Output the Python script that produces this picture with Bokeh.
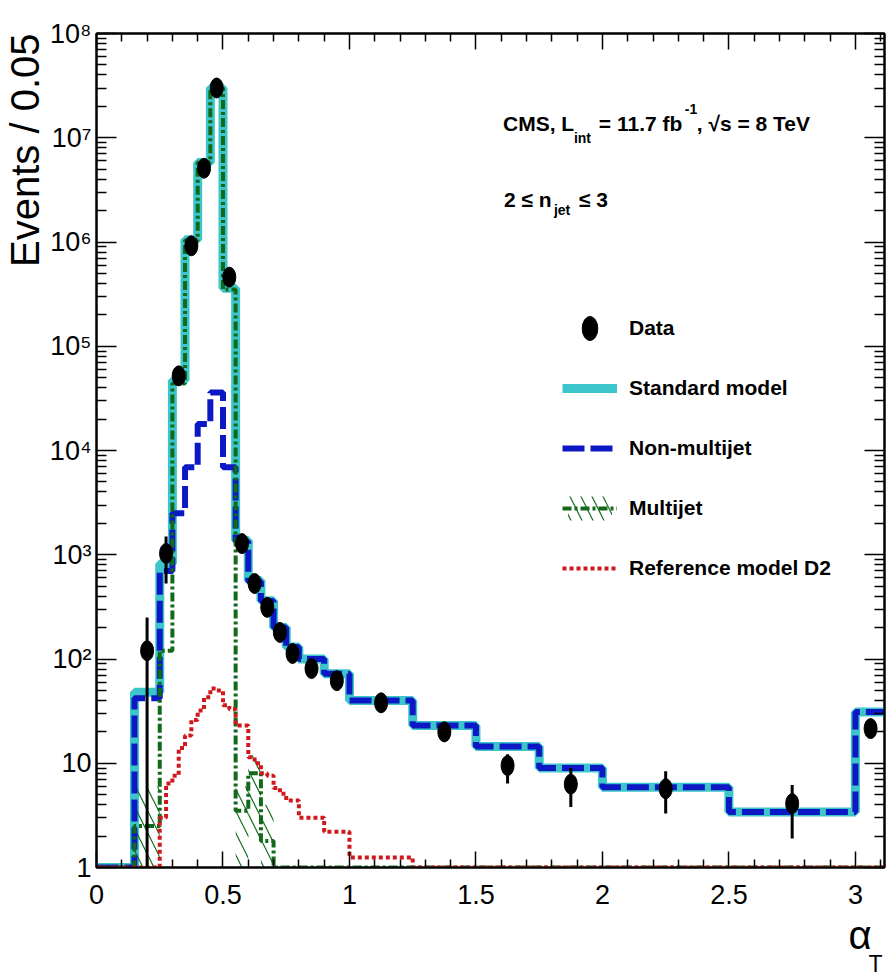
import math
import numpy as np
from bokeh.plotting import figure
from bokeh.models import (Range1d, FixedTicker, LinearAxis, LogAxis, Label, Legend,
                          LegendItem, CustomJSTickFormatter, Title)
from bokeh.embed import file_html
from bokeh.resources import INLINE

# ---------------- data ----------------
# histogram bin edges for the stacked SM / components (alpha_T)
edges = [0.0, 0.15, 0.25, 0.30, 0.35, 0.40, 0.45, 0.50, 0.55, 0.60, 0.65, 0.70,
         0.75, 0.80, 0.90, 1.00, 1.25, 1.50, 1.75, 2.00, 2.50, 3.00, 3.115]
standard_model = [1, 48, 820, 4.7e4, 1.05e6, 5.8e6, 3.0e7, 3.6e5, 1370, 565, 363, 200,
                  130, 100, 72, 40, 23, 14.5, 9.0, 5.9, 3.4, 31]
non_multijet = [1, 42, 700, 2.5e3, 6.9e3, 1.8e4, 3.6e4, 6.9e3, 1340, 555, 360, 200,
                130, 100, 72, 40, 23, 14.5, 9.0, 5.9, 3.4, 31]
multijet = [1, 2.5, 120, 4.4e4, 1.04e6, 5.8e6, 3.0e7, 3.5e5, 3.5, 8.0, 1.8, 1,
            1, 1, 1, 1, 1, 1, 1, 1, 1, 1]

# multijet uncertainty band (hatched), only where it is visible
mj_band_left = [0.15, 0.55, 0.60, 0.65]
mj_band_right = [0.25, 0.60, 0.65, 0.70]
mj_band_lo = [1.0, 1.0, 2.0, 1.0]
mj_band_hi = [6.0, 6.0, 12.0, 4.0]

# reference model D2 (finer binning)
ref_edges = [0.0, 0.25, 0.275, 0.30, 0.325, 0.35, 0.375, 0.40, 0.425, 0.45, 0.475,
             0.50, 0.525, 0.55, 0.575, 0.60, 0.625, 0.65, 0.675, 0.70, 0.725, 0.75,
             0.80, 0.90, 1.00, 1.25, 3.115]
ref_model_d2 = [1, 3.0, 6.4, 7.6, 14, 18.5, 26, 32, 43, 52, 50, 36, 33, 23, 23, 11.4,
                10, 8.0, 7.6, 5.8, 5.1, 4.4, 3.0, 2.2, 1.25, 1]

# data points with error bars
data_x = [0.2, 0.275, 0.325, 0.375, 0.425, 0.475, 0.525, 0.575, 0.625, 0.675, 0.725,
          0.775, 0.85, 0.95, 1.125, 1.375, 1.625, 1.875, 2.25, 2.75, 3.06]
data_y = [120, 1030, 5.2e4, 9.2e5, 5.1e6, 3.0e7, 4.6e5, 1280, 530, 313, 180,
          113, 81, 62, 38, 20, 9.5, 6.3, 5.7, 4.1, 21.5]
data_lo = [0.5, 530, 5.0e4, 9.0e5, 5.0e6, 2.95e7, 4.5e5, 1240, 505, 295, 166,
           102, 72, 54, 32, 16, 6.4, 3.8, 3.3, 1.9, 17.5]
data_hi = [250, 1500, 5.4e4, 9.4e5, 5.2e6, 3.05e7, 4.7e5, 1320, 555, 331, 194,
           124, 90, 70, 44, 25, 12.2, 9.0, 8.4, 6.2, 26]

x_ticks = [0, 0.5, 1, 1.5, 2, 2.5, 3]
x_tick_labels = ["0", "0.5", "1", "1.5", "2", "2.5", "3"]
y_ticks = [1, 10, 100, 1e3, 1e4, 1e5, 1e6, 1e7, 1e8]
y_tick_labels = ["1", "10", "10\u00b2", "10\u00b3", "10\u2074", "10\u2075",
                 "10\u2076", "10\u2077", "10\u2078"]

FONT = "Liberation Sans"

# ---------------- layout (canvas pixels) ----------------
W, H = 886, 975
FL, FR, FT, FB = 95, 884, 33, 867     # frame edges
X0, X1 = 0.0, 3.115
Y0, Y1 = 1.0, 1e8

def dx(px):
    return X0 + (px - FL) / (FR - FL) * (X1 - X0)

def dy(py):
    return 10 ** (math.log10(Y0) + (FB - py) / (FB - FT) * (math.log10(Y1) - math.log10(Y0)))

p = figure(width=W, height=H, x_range=Range1d(X0, X1), y_range=Range1d(Y0, Y1),
           y_axis_type="log", output_backend="svg", toolbar_location=None,
           min_border_left=FL, min_border_right=W - FR,
           min_border_top=FT, min_border_bottom=H - FB)
p.grid.visible = False
p.outline_line_color = "black"
p.outline_line_width = 2
p.background_fill_color = "white"
p.border_fill_color = "white"

# ---------------- glyphs ----------------
def step_y(vals):
    return list(vals) + [vals[-1]]

CYAN = "#3cc6cc"
BLUE = "#0c18c4"
GREEN = "#12691a"
RED = "#d0181c"

r_sm = p.step(edges, step_y(standard_model), mode="after", line_color=CYAN, line_width=9)
r_band = p.quad(left=mj_band_left, right=mj_band_right, bottom=mj_band_lo, top=mj_band_hi,
                fill_color=None, line_color=None, hatch_pattern="\\",
                hatch_color=GREEN, hatch_scale=22, hatch_weight=1.2)
r_nm = p.step(edges, step_y(non_multijet), mode="after", line_color=BLUE, line_width=6,
              line_dash="22 6")
r_mj = p.step(edges, step_y(multijet), mode="after", line_color=GREEN, line_width=4,
              line_dash="9 3 3 3")
r_ref = p.step(ref_edges, step_y(ref_model_d2), mode="after", line_color=RED, line_width=4,
               line_dash="4 3")
p.segment(x0=data_x, y0=data_lo, x1=data_x, y1=data_hi, line_color="black", line_width=3)
r_data = p.ellipse(x=data_x, y=data_y, width=13, height=20, width_units="screen",
                   height_units="screen", fill_color="black", line_color="black")

# ---------------- axes ----------------
x_minor = [round(0.1 * i, 2) for i in range(0, 32) if i % 5 != 0]
y_minor = [k * 10 ** n for n in range(0, 8) for k in range(2, 10)]

x_fmt = CustomJSTickFormatter(args=dict(vals=x_ticks, labs=x_tick_labels), code="""
    const i = vals.findIndex(v => Math.abs(v - tick) < 1e-6);
    return i >= 0 ? labs[i] : "";""")
y_fmt = CustomJSTickFormatter(args=dict(vals=y_ticks, labs=y_tick_labels), code="""
    const i = vals.findIndex(v => Math.abs(Math.log10(v) - Math.log10(tick)) < 1e-6);
    return i >= 0 ? labs[i] : "";""")
blank = CustomJSTickFormatter(code="return '';")

def style_axis(ax, tick_in, minor_in):
    ax.major_tick_in = tick_in
    ax.major_tick_out = 0
    ax.minor_tick_in = minor_in
    ax.minor_tick_out = 0
    ax.major_tick_line_color = "black"
    ax.minor_tick_line_color = "black"
    ax.major_tick_line_width = 1.5
    ax.minor_tick_line_width = 1.5
    ax.axis_line_color = "black"
    ax.axis_line_width = 2
    ax.major_label_text_font = FONT
    ax.major_label_text_font_size = "27px"
    ax.major_label_text_color = "black"

xa = p.xaxis[0]
xa.ticker = FixedTicker(ticks=x_ticks, minor_ticks=x_minor)
xa.formatter = x_fmt
style_axis(xa, 16, 8)
xa.major_label_standoff = 17

ya = p.yaxis[0]
ya.ticker = FixedTicker(ticks=y_ticks, minor_ticks=y_minor)
ya.formatter = y_fmt
style_axis(ya, 20, 10)
ya.major_label_standoff = 5

for side, ax in (("above", LinearAxis(ticker=FixedTicker(ticks=x_ticks, minor_ticks=x_minor))),
                 ("right", LogAxis(ticker=FixedTicker(ticks=y_ticks, minor_ticks=y_minor)))):
    ax.formatter = blank
    style_axis(ax, 16 if side == "above" else 20, 8 if side == "above" else 10)
    ax.major_label_standoff = 0
    ax.axis_label_standoff = 0
    ax.major_label_text_font_size = "0px"
    p.add_layout(ax, side)

# axis titles (side-panel titles so they are not clipped by the frame)
p.add_layout(Title(text="Events / 0.05", align="right", text_font=FONT,
                   text_font_size="40px", text_font_style="normal", text_color="black",
                   standoff=0, offset=0), "left")
p.add_layout(Title(text="\u03b1", align="right", text_font=FONT, text_font_size="40px",
                   text_font_style="normal", text_color="black", standoff=9,
                   offset=13), "below")
p.add_layout(Title(text="T", align="right", text_font=FONT, text_font_size="23px",
                   text_font_style="normal", text_color="black", standoff=-30,
                   offset=2), "below")

# ---------------- in-frame texts ----------------
def label(text, px, py, size, bold=True):
    lab = Label(x=dx(px), y=dy(py), text=text, text_font=FONT,
                text_font_size=size, text_font_style="bold" if bold else "normal",
                text_align="left", text_baseline="alphabetic", text_color="black")
    p.add_layout(lab)
    return lab

# CMS header
label("CMS, L", 502, 123, "21px")
label("int", 573, 137, "14px")
label("= 11.7 fb", 598, 123, "21px")
label("-1", 684, 108, "14px")
label(", \u221as = 8 TeV", 696, 123, "21px")
label("2 \u2264 n", 503, 199, "21px")
label("jet", 553, 209, "14px")
label("\u2264 3", 578, 199, "21px")

# ---------------- legend ----------------
legend = Legend(items=[
    LegendItem(label="Data", renderers=[r_data]),
    LegendItem(label="Standard model", renderers=[r_sm]),
    LegendItem(label="Non-multijet", renderers=[r_nm]),
    LegendItem(label="Multijet", renderers=[r_band, r_mj]),
    LegendItem(label="Reference model D2", renderers=[r_ref]),
], location=(561 - FL, FB - 583))
legend.glyph_width = 55
legend.glyph_height = 30
legend.label_height = 30
legend.spacing = 30
legend.padding = 0
legend.margin = 0
legend.label_standoff = 12
legend.border_line_color = None
legend.background_fill_alpha = 0
legend.label_text_font = FONT
legend.label_text_font_style = "bold"
legend.label_text_font_size = "21px"
legend.label_text_color = "black"
legend.label_text_baseline = "middle"
p.add_layout(legend)

open("out.html", "w").write(file_html(p, INLINE))
